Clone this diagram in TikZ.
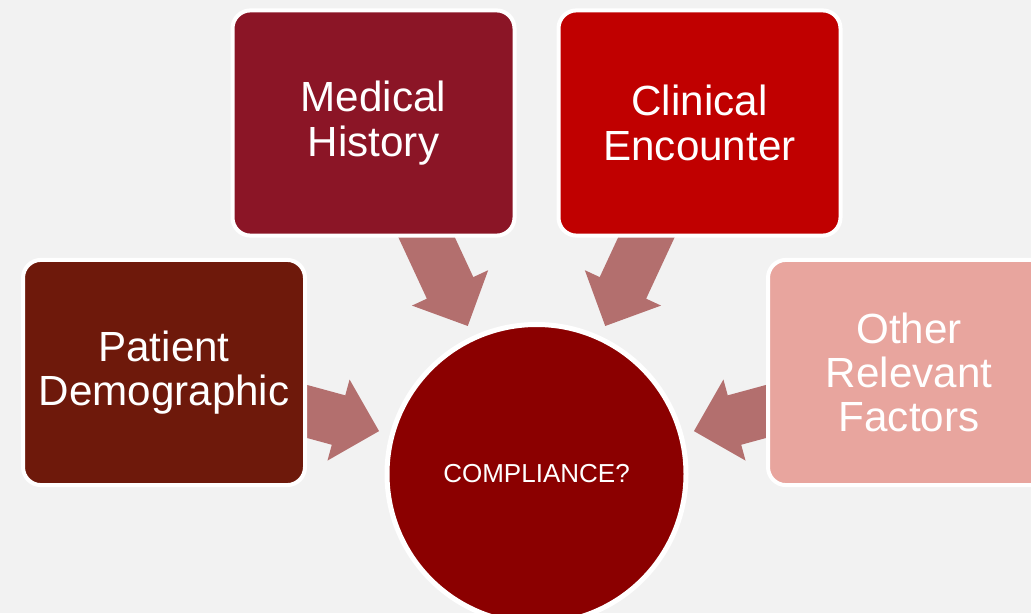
\documentclass[tikz,border=0pt]{standalone}
\usepackage{fontspec}
\setmainfont{Liberation Sans}
\usepackage{tikz}
\usetikzlibrary{calc, backgrounds}
\definecolor{bggray}{HTML}{F2F2F2}
\definecolor{demored}{HTML}{6E190B}
\definecolor{histred}{HTML}{8B1526}
\definecolor{clinred}{HTML}{C00000}
\definecolor{otherpink}{HTML}{E8A59E}
\definecolor{compred}{HTML}{8B0000}
\definecolor{flowred}{HTML}{B36F6E}
\tikzset{
    factor/.style={rectangle, rounded corners=0.45cm, draw=white, line width=0.1cm, align=center, text=white, minimum width=7.05cm, minimum height=5.63cm, inner sep=0pt, font=\fontsize{30}{31.5}\selectfont},
    hub/.style={circle, draw=white, line width=0.125cm, fill=compred, text=white, minimum size=7.475cm, inner sep=0pt, font=\fontsize{18.5}{22}\selectfont},
    flow/.style={fill=flowred}
}
% block arrow from a factor box towards the hub (tail hidden under the box)
\newcommand{\inarrow}[2]{%
    \path (#1.center) -- (#2) coordinate[pos=0] (tail) coordinate[pos=1] (edge);
    \coordinate (tip) at ($(edge)!0.28cm!(tail)$);
    \coordinate (neck) at ($(tip)!1.05cm!(tail)$);
    \fill[flow] ($(tail)!0.64cm!90:(tip)$) -- ($(neck)!0.64cm!90:(tip)$) -- ($(neck)!1.05cm!90:(tip)$) -- (tip)
        -- ($(neck)!1.05cm!-90:(tip)$) -- ($(neck)!0.64cm!-90:(tip)$) -- ($(tail)!0.64cm!-90:(tip)$) -- cycle;
}

\begin{document}
\begin{tikzpicture}
    \useasboundingbox (0,0) rectangle (25.775,15.325);
    \clip (0,0) rectangle (25.775,15.325);
    \begin{scope}[on background layer]
        \fill[bggray] (0,0) rectangle (25.775,15.325);
    \end{scope}

    % Factor boxes
    \node[factor, fill=histred] (history) at (9.3375,12.25) {Medical\\History};
    \node[factor, fill=clinred] (clinical) at (17.4875,12.25) {Clinical\\Encounter};
    \node[factor, fill=demored] (demo) at (4.1,6.0125) {Patient\\Demographic};
    \node[factor, fill=otherpink] (other) at (22.725,6.0125) {Other\\Relevant\\Factors};

    % Central question
    \node[hub] (comp) at (13.4125,3.475) {COMPLIANCE?};

    % Arrows into the hub
    \begin{scope}[on background layer]
        \inarrow{history}{comp}
        \inarrow{clinical}{comp}
        \inarrow{demo}{comp}
        \inarrow{other}{comp}
    \end{scope}

\end{tikzpicture}
\end{document}
